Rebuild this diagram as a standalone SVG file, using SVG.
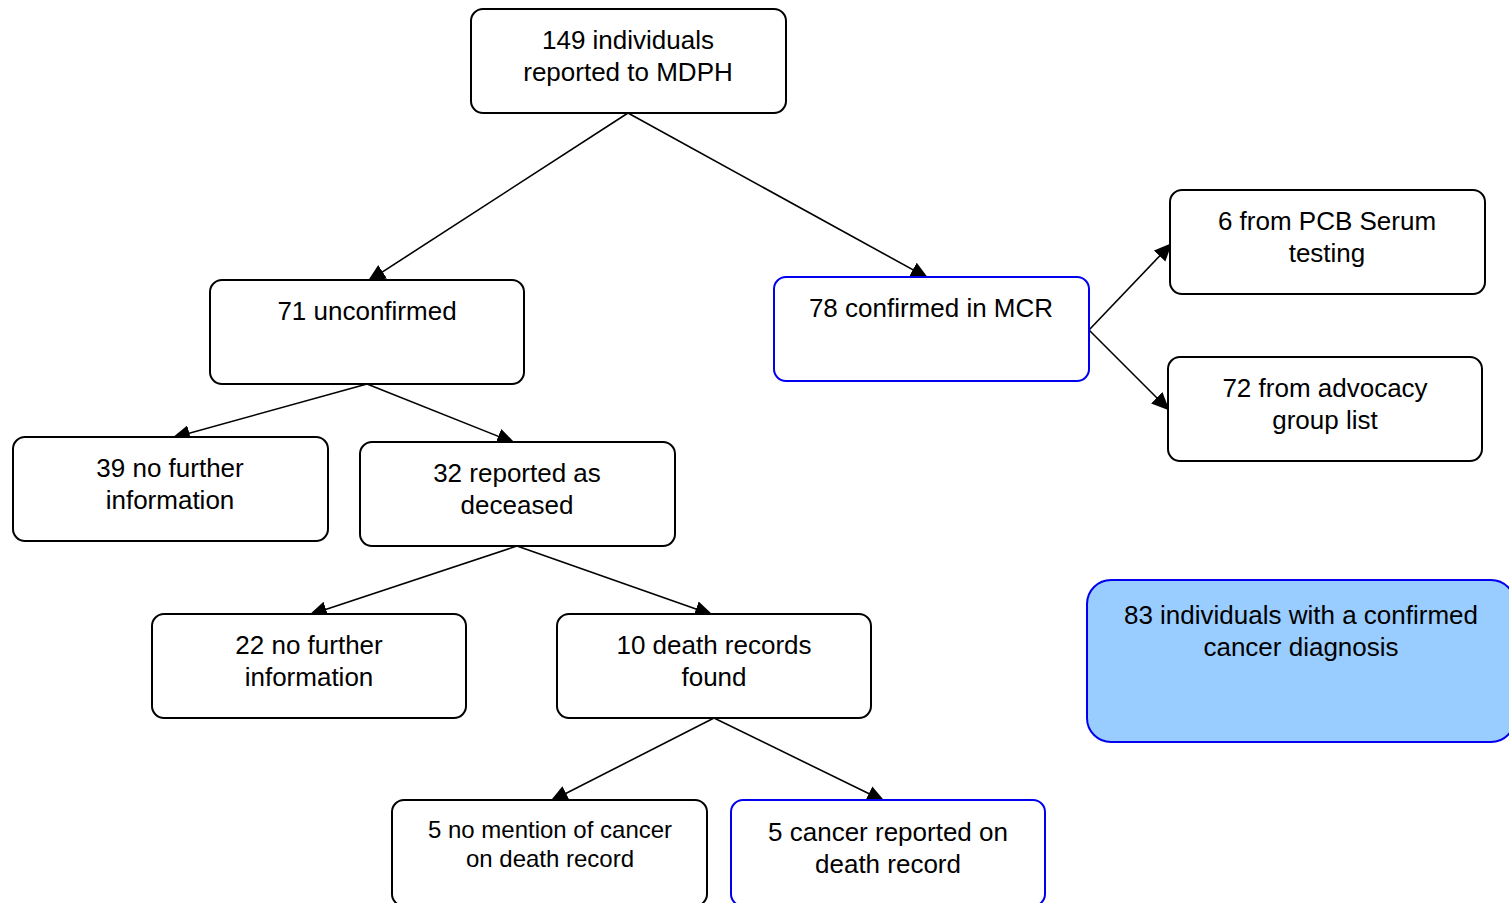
<svg xmlns="http://www.w3.org/2000/svg" width="1509" height="903" viewBox="0 0 1509 903">
<style>
.box{fill:#fff;stroke:#000;stroke-width:2}
.blue{fill:#fff;stroke:#0000ee;stroke-width:2}
.fill{fill:#99ccff;stroke:#0000ee;stroke-width:2}
text{font-family:"Liberation Sans",Arial,sans-serif;font-size:26px;fill:#000;text-anchor:middle}
.sm{font-size:24px}
.conn line{stroke:#000;stroke-width:1.6;marker-end:url(#ah)}
</style>
<defs>
<marker id="ah" markerUnits="userSpaceOnUse" markerWidth="20" markerHeight="18" refX="18" refY="8" orient="auto">
<path d="M0,0 L18,8 L0,16 z" fill="#000"/>
</marker>
</defs>
<rect width="1509" height="903" fill="#fff"/>
<g id="connectors" class="conn">
<line x1="628" y1="113" x2="367.5" y2="281.6"/>
<line x1="628" y1="113" x2="928.6" y2="278.4"/>
<line x1="367" y1="384" x2="172" y2="438"/>
<line x1="367" y1="384" x2="515" y2="443"/>
<line x1="517" y1="546" x2="309" y2="615"/>
<line x1="517" y1="546" x2="713" y2="615"/>
<line x1="714" y1="718" x2="550" y2="801.5"/>
<line x1="714" y1="718" x2="885" y2="801.5"/>
<line x1="1089" y1="330" x2="1172" y2="243"/>
<line x1="1089" y1="330" x2="1169.5" y2="410.5"/>
</g>
<g id="n1"><rect class="box" x="471" y="9" width="315" height="104" rx="12"/><text x="628" y="49">149 individuals</text><text x="628" y="81">reported to MDPH</text></g>
<g id="n2"><rect class="box" x="210" y="280" width="314" height="104" rx="12"/><text x="367" y="320">71 unconfirmed</text></g>
<g id="n3"><rect class="blue" x="774" y="277" width="315" height="104" rx="12"/><text x="931" y="317">78 confirmed in MCR</text></g>
<g id="n4"><rect class="box" x="1170" y="190" width="315" height="104" rx="12"/><text x="1327" y="230">6 from PCB Serum</text><text x="1327" y="262">testing</text></g>
<g id="n5"><rect class="box" x="1168" y="357" width="314" height="104" rx="12"/><text x="1325" y="397">72 from advocacy</text><text x="1325" y="429">group list</text></g>
<g id="n6"><rect class="box" x="13" y="437" width="315" height="104" rx="12"/><text x="170" y="477">39 no further</text><text x="170" y="509">information</text></g>
<g id="n7"><rect class="box" x="360" y="442" width="315" height="104" rx="12"/><text x="517" y="482">32 reported as</text><text x="517" y="514">deceased</text></g>
<g id="n8"><rect class="box" x="152" y="614" width="314" height="104" rx="12"/><text x="309" y="654">22 no further</text><text x="309" y="686">information</text></g>
<g id="n9"><rect class="box" x="557" y="614" width="314" height="104" rx="12"/><text x="714" y="654">10 death records</text><text x="714" y="686">found</text></g>
<g id="n10"><rect class="box" x="392" y="800" width="315" height="106" rx="12"/><text class="sm" x="550" y="838">5 no mention of cancer</text><text class="sm" x="550" y="867">on death record</text></g>
<g id="n11"><rect class="blue" x="731" y="800" width="314" height="106" rx="12"/><text x="888" y="841">5 cancer reported on</text><text x="888" y="873">death record</text></g>
<g id="n12"><rect class="fill" x="1087" y="580" width="428" height="162" rx="24"/><text x="1301" y="624">83 individuals with a confirmed</text><text x="1301" y="656">cancer diagnosis</text></g>
</svg>
